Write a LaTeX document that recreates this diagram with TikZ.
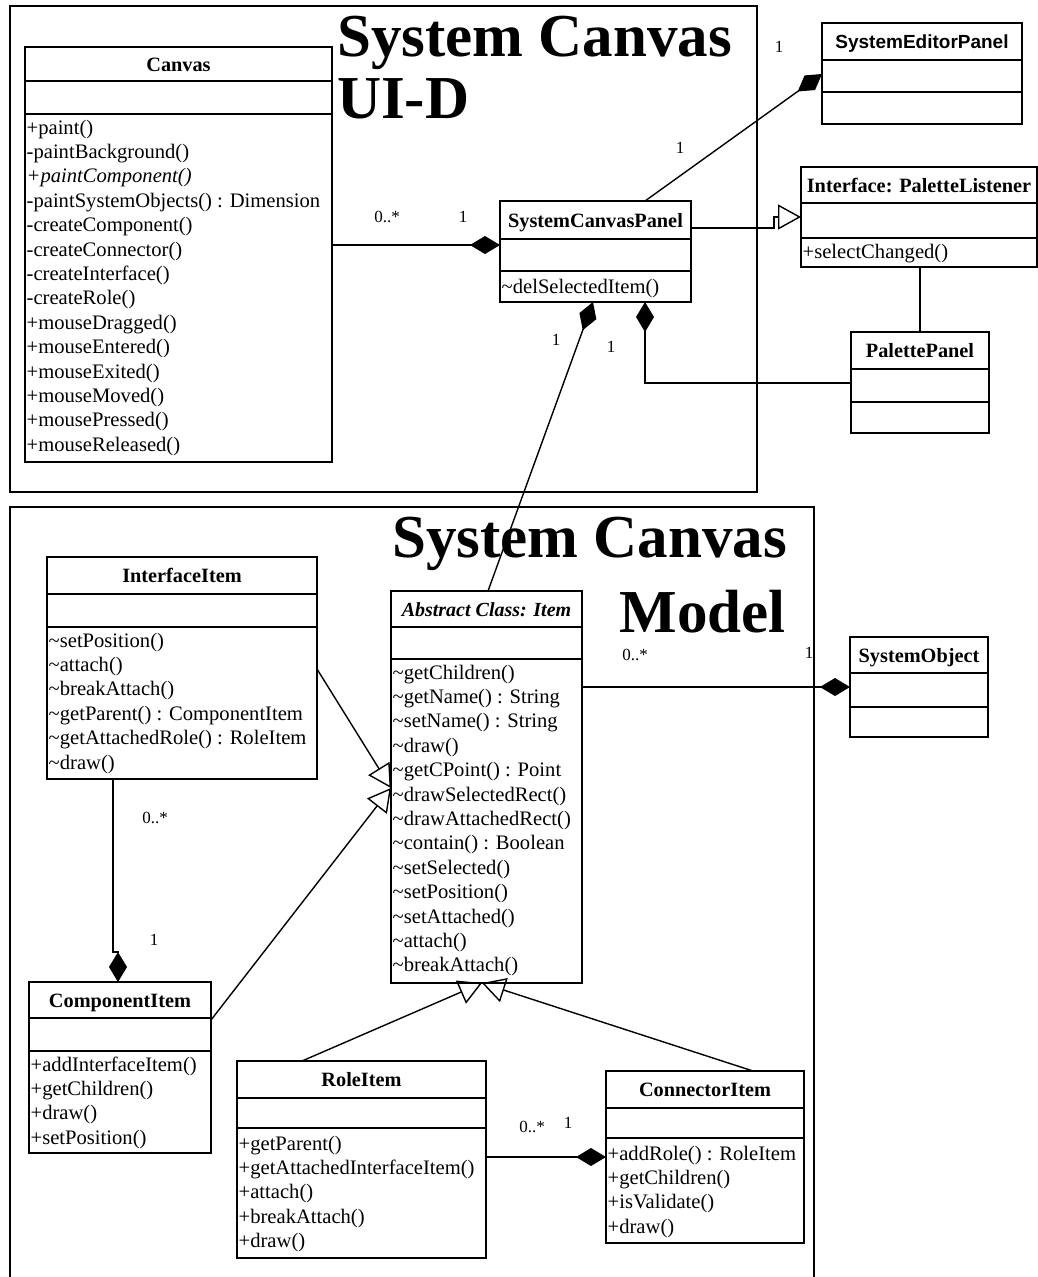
\documentclass[tikz,border=0pt]{standalone}
\usepackage{fontspec}
\setmainfont{Liberation Serif}
\newfontfamily\sansbold{Liberation Sans}
\usetikzlibrary{arrows.meta}

% class box: name, left, top, width, height, first divider y, second divider y
\newcommand{\umlclass}[7]{%
  \node[classbox, minimum width=#4pt, minimum height=#5pt] (#1) at (#2,#3) {};
  \draw[divider] (#1.west |- 0,#6) -- (#1.east |- 0,#6);
  \draw[divider] (#1.west |- 0,#7) -- (#1.east |- 0,#7);
}

\begin{document}
\begin{tikzpicture}[x=1pt, y=-1pt,
  classbox/.style={draw, line width=1.8pt, rectangle, inner sep=0pt, outer sep=0pt, anchor=north west},
  divider/.style={line width=1.6pt},
  frame/.style={line width=1.6pt},
  ctitle/.style={font=\fontsize{20.3}{24}\selectfont\bfseries, anchor=base, inner sep=0pt},
  meth/.style={font=\fontsize{20.6}{24}\selectfont, anchor=base west, inner sep=0pt},
  mult/.style={font=\fontsize{17}{20}\selectfont, inner sep=0pt},
  bigtitle/.style={font=\fontsize{61}{70}\selectfont\bfseries, inner sep=0pt},
  assoc/.style={line width=1.4pt, line join=miter},
  comp/.style={assoc, -{Diamond[length=30pt,width=18pt]}},
  gen/.style={assoc, -{Triangle[open,length=23pt,width=25pt]}},
]
\fill[white] (0,0) rectangle (1038,1277);
\useasboundingbox (0,0) rectangle (1038,1277);

% package frames
\draw[frame] (10,6) rectangle (757,492);
\draw[frame] (10,1277) -- (10,507) -- (814,507) -- (814,1277);

% package titles
\node[bigtitle, anchor=base west] (uititle) at (337,56) {System Canvas};
\node[bigtitle, anchor=base west] (uititleb) at (337,118) {UI-D};
\node[bigtitle, anchor=base west] (mtitle) at (392,557) {System Canvas};
\node[bigtitle, anchor=base east] (mtitleb) at (786,632) {Model};

% ---------- classes ----------
\umlclass{canvas}{25}{47}{307}{415}{81}{114}
\node[ctitle] at (canvas.north |- 0,71) {Canvas};
\foreach \m [count=\i from 0] in {+paint(), -paintBackground(), {\itshape +paintComponent()},
  -paintSystemObjects() : Dimension, -createComponent(), -createConnector(),
  -createInterface(), -createRole(), +mouseDragged(), +mouseEntered(),
  +mouseExited(), +mouseMoved(), +mousePressed(), +mouseReleased()}
  \node[meth] at ({26.5},{134+\i*24.4}) {\m};

\umlclass{scp}{500}{201}{191}{101}{239}{271}
\node[ctitle] at (scp.north |- 0,227) {SystemCanvasPanel};
\node[meth] at (501.5,293) {\textasciitilde delSelectedItem()};

\umlclass{sep}{822}{23}{200}{101}{60}{92}
\node[ctitle, font=\fontsize{19}{23}\selectfont\sansbold\bfseries] at (sep.north |- 0,48.5) {SystemEditorPanel};

\umlclass{pl}{801}{167}{236}{100}{203}{238}
\node[ctitle] at (pl.north |- 0,192) {Interface: PaletteListener};
\node[meth] at (802.5,258) {+selectChanged()};

\umlclass{pp}{851}{332}{138}{101}{369}{402}
\node[ctitle] at (pp.north |- 0,357.5) {PalettePanel};

\umlclass{ii}{47}{557}{270}{222}{594}{627}
\node[ctitle] at (ii.north |- 0,582.5) {InterfaceItem};
\foreach \m [count=\i from 0] in {\textasciitilde setPosition(), \textasciitilde attach(),
  \textasciitilde breakAttach(), \textasciitilde getParent() : ComponentItem,
  \textasciitilde getAttachedRole() : RoleItem, \textasciitilde draw()}
  \node[meth] at ({48.5},{647+\i*24.4}) {\m};

\umlclass{item}{391}{591}{191}{392}{627}{659}
\node[ctitle, font=\fontsize{20}{24}\selectfont\bfseries\itshape] at (item.north |- 0,616) {Abstract Class: Item};
\foreach \m [count=\i from 0] in {\textasciitilde getChildren(), \textasciitilde getName() : String,
  \textasciitilde setName() : String, \textasciitilde draw(), \textasciitilde getCPoint() : Point,
  \textasciitilde drawSelectedRect(), \textasciitilde drawAttachedRect(),
  \textasciitilde contain() : Boolean, \textasciitilde setSelected(), \textasciitilde setPosition(),
  \textasciitilde setAttached(), \textasciitilde attach(), \textasciitilde breakAttach()}
  \node[meth] at ({392.5},{679+\i*24.4}) {\m};

\umlclass{so}{850}{637}{138}{100}{673}{707}
\node[ctitle] at (so.north |- 0,662) {SystemObject};

\umlclass{ci}{29}{982}{182}{171}{1018}{1051}
\node[ctitle] at (ci.north |- 0,1007) {ComponentItem};
\foreach \m [count=\i from 0] in {+addInterfaceItem(), +getChildren(), +draw(), +setPosition()}
  \node[meth] at ({30.5},{1071+\i*24.4}) {\m};

\umlclass{ri}{237}{1061}{249}{197}{1098}{1128}
\node[ctitle] at (ri.north |- 0,1086.5) {RoleItem};
\foreach \m [count=\i from 0] in {+getParent(), +getAttachedInterfaceItem(), +attach(), +breakAttach(), +draw()}
  \node[meth] at ({238.5},{1150+\i*24.4}) {\m};

\umlclass{coni}{606}{1071}{198}{172}{1108}{1138}
\node[ctitle] at (coni.north |- 0,1096.5) {ConnectorItem};
\foreach \m [count=\i from 0] in {+addRole() : RoleItem, +getChildren(), +isValidate(), +draw()}
  \node[meth] at ({607.5},{1160+\i*24.4}) {\m};

% ---------- relationships ----------
\draw[comp] (canvas.east |- 0,245) -- (scp.west |- 0,245);
\draw[comp] (645,0 |- scp.north) -- (sep.west |- 0,74);
\draw[gen] (scp.east |- 0,228) -- (774,228) -- (774,217) -- (pl.west |- 0,217);
\draw[assoc] (920,0 |- pl.south) -- (920,0 |- pp.north);
\draw[comp] (pp.west |- 0,383) -| (645,0 |- scp.south);
\draw[comp] (488,0 |- item.north) -- (593,0 |- scp.south);
\draw[comp] (item.east |- 0,687) -- (so.west |- 0,687);
\draw[gen] (ii.east |- 0,669) -- (item.west |- 0,788);
\draw[gen] (ci.east |- 0,1020) -- (item.west |- 0,788);
\draw[gen] (302,0 |- ri.north) -- (482,0 |- item.south);
\draw[gen] (753,0 |- coni.north) -- (482,0 |- item.south);
\draw[comp] (113,0 |- ii.south) -- (113,952) -- (118,952) -- (118,0 |- ci.north);
\draw[comp] (ri.east |- 0,1157) -- (coni.west |- 0,1157);

% multiplicities
\node[mult] at (387,217) {0..*};
\node[mult] at (463,217) {1};
\node[mult] at (779,47) {1};
\node[mult] at (680,148) {1};
\node[mult] at (556,340) {1};
\node[mult] at (611,347) {1};
\node[mult] at (635,655) {0..*};
\node[mult] at (809,653) {1};
\node[mult] at (155,818) {0..*};
\node[mult] at (154,940) {1};
\node[mult] at (532,1127) {0..*};
\node[mult] at (568,1123) {1};
\end{tikzpicture}
\end{document}
